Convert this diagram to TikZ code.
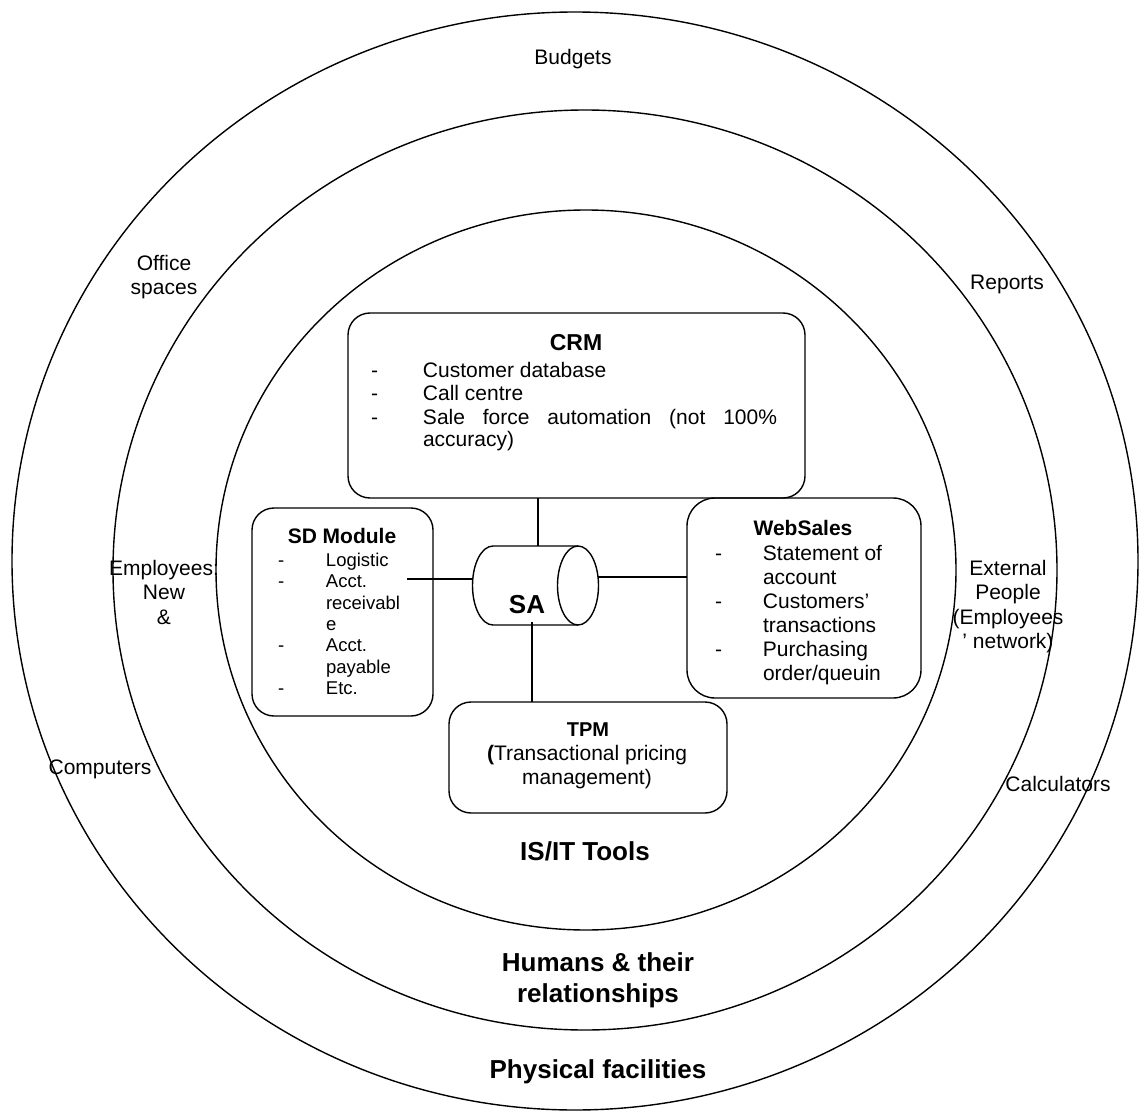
\documentclass[tikz,border=0pt]{standalone}
\usepackage{fontspec}
\setmainfont{Liberation Sans}
\usepackage{array}
\begin{document}
\begin{tikzpicture}[x=1pt,y=-1pt,
  ring/.style={line width=1.4pt},
  box/.style={draw, line width=1.4pt, rounded corners=22pt, inner sep=0pt, outer sep=0pt},
  link/.style={line width=1.4pt},
  lbl/.style={inner sep=0pt, outer sep=0pt, anchor=base, font=\fontsize{21}{24.5}\selectfont},
  layer/.style={inner sep=0pt, outer sep=0pt, anchor=base, font=\bfseries\fontsize{26}{31}\selectfont},
  head/.style={inner sep=0pt, outer sep=0pt, anchor=base, font=\bfseries\fontsize{21}{24}\selectfont},
  items/.style={inner sep=0pt, outer sep=0pt, anchor=base west, font=\fontsize{21}{24}\selectfont}]
\useasboundingbox (0,0) rectangle (1141,1113);
\fill[white] (0,0) rectangle (1141,1113);

% three nested layers
\draw[ring] (575,561) ellipse [x radius=563, y radius=549];
\draw[ring] (585,570) ellipse [x radius=472, y radius=460];
\draw[ring] (586,570) ellipse [x radius=370, y radius=360];

% outer layer: physical facilities
\node[lbl] (budgets) at (573,65) {Budgets};
\node[lbl] (office) at (164,270) {\begin{tabular}[t]{@{}c@{}}Office\\spaces\end{tabular}};
\node[lbl] (computers) at (100,774) {Computers};
\node[lbl] (calculators) at (1058,791) {Calculators};
\node[layer] (physical) at (598,1078) {Physical facilities};

% middle layer: humans
\node[lbl] (reports) at (1007,289) {Reports};
\node[lbl] (employees) at (164,575) {\begin{tabular}[t]{@{}c@{}}Employees:\\New\\\&\end{tabular}};
\node[lbl] (external) at (1008,575) {\begin{tabular}[t]{@{}c@{}}External\\People\\(Employees\\’ network)\end{tabular}};
\node[layer] (humans) at (598,971) {\begin{tabular}[t]{@{}c@{}}Humans \& their\\relationships\end{tabular}};

% inner layer: IS/IT tools
\node[layer] (isit) at (585,860) {IS/IT Tools};

% CRM
\node[box, minimum width=457pt, minimum height=185pt] (CRM) at (576.5,405.5) {};
\node[head, font=\bfseries\fontsize{23}{24}\selectfont] (crmtitle) at (576,350) {CRM};
\node[items] (crmlist) at (371,377) {\begin{tabular}[t]{@{}p{52pt}@{}l@{}}
-&Customer database\\[-0.5pt]
-&Call centre\\[-0.5pt]
-&\makebox[354pt][s]{Sale force automation (not 100\%}\\[-2pt]
&accuracy)\end{tabular}};

% SD module
\node[box, minimum width=181pt, minimum height=208pt] (SD) at (342.5,612) {};
\node[head] (sdtitle) at (342,543.5) {SD Module};
\node[items, font=\fontsize{18.5}{21.3}\selectfont] (sdlist) at (278,566.5) {\begin{tabular}[t]{@{}p{48pt}@{}l@{}}
-&Logistic\\
-&Acct.\\
&receivabl\\
&e\\
-&Acct.\\
&payable\\
-&Etc.\end{tabular}};

% WebSales
\node[box, rounded corners=28pt, minimum width=234pt, minimum height=200pt] (WS) at (804,598) {};
\node[head] (wstitle) at (803,535.5) {WebSales};
\node[items] (wslist) at (715,560) {\begin{tabular}[t]{@{}p{48pt}@{}l@{}}
-&Statement of\\
&account\\
-&Customers’\\
&transactions\\
-&Purchasing\\
&order/queuin\end{tabular}};

% TPM
\node[box, minimum width=278pt, minimum height=111pt] (TPM) at (588,757.5) {};
\node[head, font=\bfseries\fontsize{20}{24}\selectfont] (tpmtitle) at (588,736) {TPM};
\node[lbl, font=\fontsize{21}{24}\selectfont] (tpmtext) at (587,760) {\begin{tabular}[t]{@{}c@{}}\textbf{(}Transactional pricing\\management)\end{tabular}};

% SA data store (horizontal cylinder, open face on the right)
\node[inner sep=0pt, outer sep=0pt, minimum width=125pt, minimum height=79pt] (SA) at (535.5,585.5) {};
\draw[line width=1.4pt] (578,546) -- (493,546)
  arc[start angle=270, end angle=90, x radius=20.5, y radius=39.5] -- (578,625);
\draw[line width=1.4pt] (578,585.5) ellipse [x radius=20.5, y radius=39.5];
\node[inner sep=0pt, outer sep=0pt, anchor=base, font=\bfseries\fontsize{26}{28}\selectfont] (satext) at (527,613) {SA};

% links to SA
\coordinate (crmlink) at (538,546);
\coordinate (sdlink) at (407,579);
\coordinate (wslink) at (598,577);
\coordinate (tpmlink) at (532,622);
\draw[link] (crmlink |- CRM.south) -- (crmlink);
\draw[link] (sdlink) -- (sdlink -| SA.west);
\draw[link] (wslink) -- (wslink -| WS.west);
\draw[link] (tpmlink) -- (tpmlink |- TPM.north);
\end{tikzpicture}
\end{document}
